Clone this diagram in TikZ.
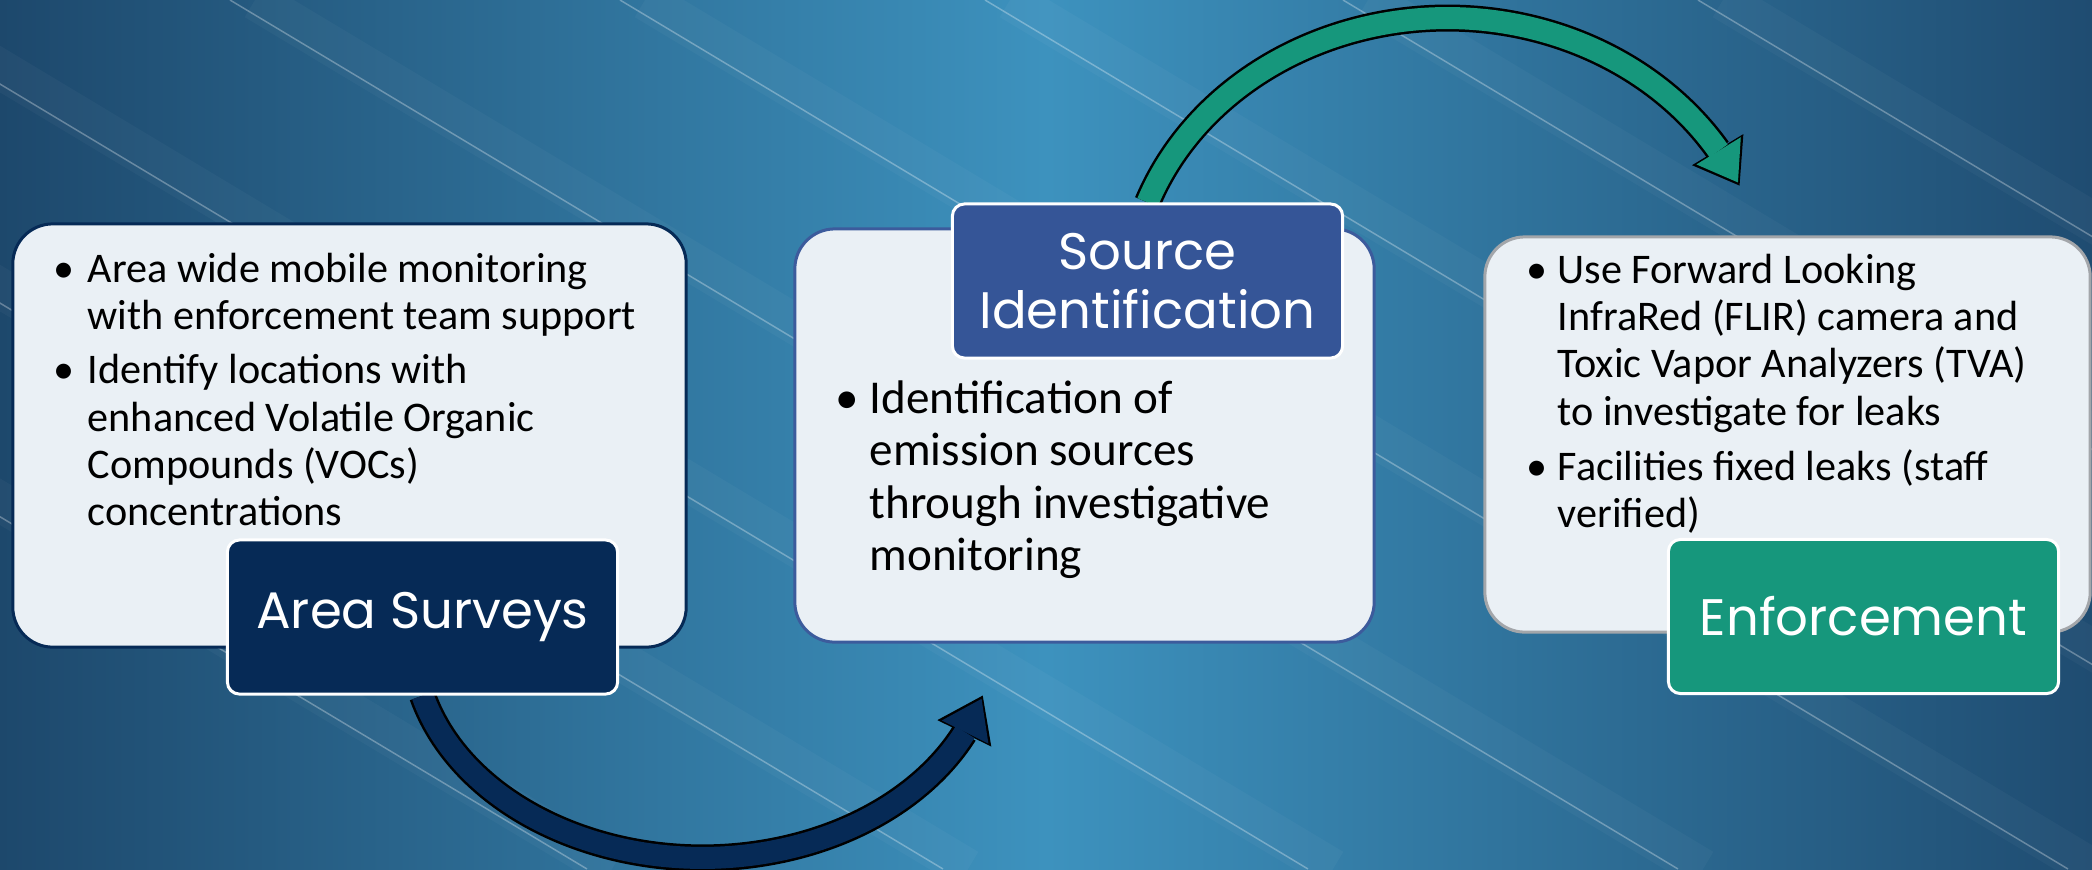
\documentclass[tikz,border=0pt]{standalone}
\usepackage{fontspec}
\setmainfont{Carlito}
\newfontfamily\gothic{Poppins}
\usetikzlibrary{arrows.meta,bending,backgrounds}
\definecolor{navyblue}{HTML}{062A56}
\definecolor{srcblue}{HTML}{355597}
\definecolor{enfgreen}{HTML}{16977C}
\definecolor{cardfill}{HTML}{EAF0F5}
\definecolor{srcline}{HTML}{3C5B9C}
\definecolor{greyline}{HTML}{A3A6AA}
\definecolor{bgdark}{HTML}{1D486C}
\definecolor{bglight}{HTML}{3D92BE}
\definecolor{bgright}{HTML}{1F4C71}
\begin{document}
\begin{tikzpicture} [x=0.01cm,y=-0.01cm,
		card/.style={draw,fill=cardfill,line width=0.03cm,rounded corners=0.4cm},
		tag/.style={draw=white,line width=0.03cm,rounded corners=0.12cm,text=white,minimum width=3.9cm,minimum height=1.54cm,align=center,font=\gothic\fontsize{14.6}{17}\selectfont},
		txt/.style={anchor=north west,inner sep=0pt,align=left},
		streak/.style={white,opacity=0.3,line width=0.015cm},
		glow/.style={white,opacity=0.03,line width=0.4cm},
		arrowrim/.style={black,line width=0.27cm,-{Triangle[width=0.6cm,length=0.42cm,line width=0pt]}},
		arrowbody/.style={line width=0.22cm,shorten >=0.035cm,-{Triangle[width=0.52cm,length=0.37cm,line width=0pt]}}]
		\useasboundingbox (0,0) rectangle (2092,869);
		\node [card,draw=navyblue,minimum width=6.73cm,minimum height=4.23cm] (area) at (349.5,435.5) {};
		\node [card,draw=srcline,minimum width=5.79cm,minimum height=4.13cm] (ident) at (1084.5,435.5) {};
		\node [card,draw=greyline,minimum width=6.05cm,minimum height=3.95cm] (enf) at (1787.5,434.5) {};
		\node [txt,font=\fontsize{12}{13.4}\selectfont] (areatxt) at (53,249) {\begin{tabular}{@{}p{0.34cm}@{}l@{}}
			\textbullet & Area wide mobile monitoring\\
			& with enforcement team support\\[0.07cm]
			\textbullet & Identify locations with\\
			& enhanced Volatile Organic\\
			& Compounds (VOCs)\\
			& concentrations
		\end{tabular}};
		\node [txt,font=\fontsize{13.4}{14.9}\selectfont] (identtxt) at (835,376) {\begin{tabular}{@{}p{0.34cm}@{}l@{}}
			\textbullet & Identification of\\
			& emission sources\\
			& through investigative\\
			& monitoring
		\end{tabular}};
		\node [txt,font=\fontsize{12}{13.4}\selectfont] (enftxt) at (1526,250) {\begin{tabular}{@{}p{0.31cm}@{}l@{}}
			\textbullet & Use Forward Looking\\
			& InfraRed (FLIR) camera and\\
			& Toxic Vapor Analyzers (TVA)\\
			& to investigate for leaks\\[0.08cm]
			\textbullet & Facilities fixed leaks (staff\\
			& verified)
		\end{tabular}};
		\node [tag,fill=navyblue] (surv) at (422.5,617) {Area Surveys};
		\node [tag,fill=srcblue] (src) at (1147.5,281) {Source\\Identification};
		\node [tag,fill=enfgreen] (enfc) at (1863.5,616.5) {Enforcement};
		\begin{scope}[on background layer]
			\clip (0,0) rectangle (2092,869);
			\shade [left color=bgdark,right color=bgright,middle color=bglight] (0,0) rectangle (2092,869);
			\foreach \s in {-861,-505,-140,230,620,985,1343,1698} {
				\draw [glow] (\s+25,0) -- ++(1448,869);
				\draw [streak] (\s,0) -- ++(1448,869);
			}
			\draw [arrowrim] (surv.south) arc [start angle=165,end angle=15,x radius=290,y radius=219];
			\draw [arrowbody,navyblue] (surv.south) arc [start angle=165,end angle=15,x radius=290,y radius=219];
			\draw [arrowrim] (src.north) arc [start angle=200.4,end angle=335.9,x radius=320,y radius=283];
			\draw [arrowbody,enfgreen] (src.north) arc [start angle=200.4,end angle=335.9,x radius=320,y radius=283];
		\end{scope}
	\end{tikzpicture}
\end{document}
